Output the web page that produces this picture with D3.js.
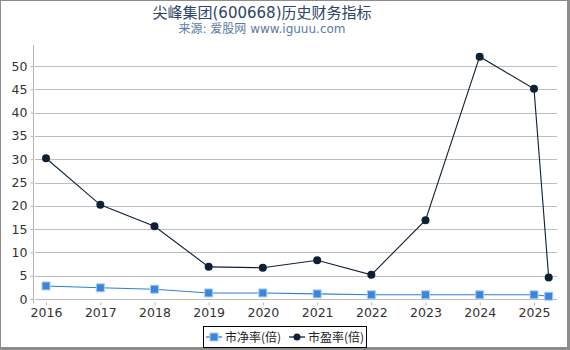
<!DOCTYPE html>
<html>
<head>
<meta charset="utf-8">
<script src="https://cdn.jsdelivr.net/npm/d3@7"></script>
<style>
  body { margin: 0; background: #fff; }
  svg { display: block; font-family: "DejaVu Sans", "Noto Sans CJK SC", sans-serif; }
</style>
</head>
<body>
<script>
// data
var dates = ['2016-01-01', '2017-01-01', '2018-01-01', '2019-01-01', '2020-01-01',
    '2021-01-01', '2022-01-01', '2023-01-01', '2024-01-01', '2025-01-01', '2025-04-10'];
var pbValues = [2.8, 2.4, 2.1, 1.3, 1.3, 1.1, 0.9, 0.9, 0.9, 0.9, 0.6];
var peValues = [30.2, 20.2, 15.6, 6.9, 6.7, 8.3, 5.2, 16.9, 52.0, 45.1, 4.6];
var yearTicks = [2016, 2017, 2018, 2019, 2020, 2021, 2022, 2023, 2024, 2025];
var yTicks = [0, 5, 10, 15, 20, 25, 30, 35, 40, 45, 50];
var seriesNames = ['市净率(倍)', '市盈率(倍)'];

var width = 570, height = 350;
var parse = d3.timeParse('%Y-%m-%d');

var svg = d3.select('body').append('svg')
    .attr('width', width)
    .attr('height', height);

// frame
svg.append('rect').attr('x', 0.5).attr('y', 0.5).attr('width', width - 3).attr('height', height - 3)
    .attr('fill', 'none').attr('stroke', '#8c8c8c').attr('stroke-width', 1);
svg.append('line').attr('x1', width - 1.5).attr('x2', width - 1.5).attr('y1', 0).attr('y2', height)
    .attr('stroke', '#8c8c8c').attr('stroke-width', 3);
svg.append('line').attr('x1', 0).attr('x2', width).attr('y1', height - 1.5).attr('y2', height - 1.5)
    .attr('stroke', '#8c8c8c').attr('stroke-width', 3);

svg.append('text').attr('x', 262).attr('y', 18).attr('text-anchor', 'middle')
    .attr('font-size', 15).attr('fill', '#2e4468').text('尖峰集团(600668)历史财务指标');
svg.append('text').attr('x', 262).attr('y', 33).attr('text-anchor', 'middle')
    .attr('font-size', 12).attr('fill', '#5b7aa3').text('来源: 爱股网 www.iguuu.com');

var x = d3.scaleTime()
    .domain([parse('2016-01-01'), parse('2025-01-01')])
    .range([46, 534]);
var y = d3.scaleLinear().domain([0, 50]).range([299, 66]);

// grid
svg.append('g').selectAll('line').data(yTicks).enter().append('line')
    .attr('x1', 35).attr('x2', 557)
    .attr('y1', function(d) { return Math.round(y(d)) + 0.5; })
    .attr('y2', function(d) { return Math.round(y(d)) + 0.5; })
    .attr('stroke', '#bdbdbd').attr('stroke-width', 1);

// y axis
var yAxis = svg.append('g').attr('transform', 'translate(33.5,0)')
    .call(d3.axisLeft(y).tickValues(yTicks).tickSize(3).tickPadding(3));
yAxis.select('.domain').remove();
yAxis.append('line').attr('x1', 0).attr('x2', 0).attr('y1', 45).attr('y2', 303)
    .attr('stroke', '#b5b5b5');
yAxis.selectAll('.tick line').attr('stroke', '#b5b5b5');
yAxis.selectAll('.tick text').attr('font-size', 12.5).attr('fill', '#333')
    .attr('font-family', '"DejaVu Sans", sans-serif');

// x axis
var xAxis = svg.append('g').attr('transform', 'translate(0,302.5)')
    .call(d3.axisBottom(x)
        .tickValues(yearTicks.map(function(d) { return new Date(d, 0, 1); }))
        .tickFormat(d3.timeFormat('%Y'))
        .tickSize(3).tickPadding(3));
xAxis.select('.domain').remove();
xAxis.selectAll('.tick line').attr('stroke', '#b5b5b5');
xAxis.selectAll('.tick text').attr('font-size', 12.5).attr('fill', '#333')
    .attr('font-family', '"DejaVu Sans", sans-serif');

function series(values) {
    return values.map(function(v, i) { return {date: parse(dates[i]), value: v}; });
}

var line = d3.line()
    .x(function(d) { return x(d.date); })
    .y(function(d) { return y(d.value); });

var pb = series(pbValues);
var pe = series(peValues);

svg.append('path').datum(pb).attr('d', line)
    .attr('fill', 'none').attr('stroke', '#2f7ed8').attr('stroke-width', 1.1);
svg.append('g').selectAll('rect').data(pb).enter().append('rect')
    .attr('x', function(d) { return x(d.date) - 4; })
    .attr('y', function(d) { return y(d.value) - 4; })
    .attr('width', 8).attr('height', 8)
    .attr('fill', '#3a86dd').attr('stroke', '#a9cdf2').attr('stroke-width', 1);

svg.append('path').datum(pe).attr('d', line)
    .attr('fill', 'none').attr('stroke', '#0d2036').attr('stroke-width', 1.1);
svg.append('g').selectAll('circle').data(pe).enter().append('circle')
    .attr('cx', function(d) { return x(d.date); })
    .attr('cy', function(d) { return y(d.value); })
    .attr('r', 4).attr('fill', '#0d2036');

// legend
var legend = svg.append('g');
legend.append('rect').attr('x', 203.5).attr('y', 326.5).attr('width', 163).attr('height', 21)
    .attr('fill', '#fff').attr('stroke', '#000').attr('stroke-width', 1);

var lg1 = legend.append('g').attr('transform', 'translate(206,337)');
lg1.append('line').attr('x1', 0).attr('x2', 16).attr('stroke', '#2f7ed8').attr('stroke-width', 1.3);
lg1.append('rect').attr('x', 4).attr('y', -4).attr('width', 8).attr('height', 8)
    .attr('fill', '#3a86dd').attr('stroke', '#a9cdf2');
lg1.append('text').attr('x', 19).attr('y', 4.5).attr('font-size', 12).attr('fill', '#222')
    .attr('font-family', '"Noto Sans CJK SC", sans-serif').text(seriesNames[0]);

var lg2 = legend.append('g').attr('transform', 'translate(289,337)');
lg2.append('line').attr('x1', 0).attr('x2', 16).attr('stroke', '#0d2036').attr('stroke-width', 1.3);
lg2.append('circle').attr('cx', 8).attr('cy', 0).attr('r', 3.5).attr('fill', '#0d2036');
lg2.append('text').attr('x', 19).attr('y', 4.5).attr('font-size', 12).attr('fill', '#222')
    .attr('font-family', '"Noto Sans CJK SC", sans-serif').text(seriesNames[1]);
</script>
</body>
</html>
